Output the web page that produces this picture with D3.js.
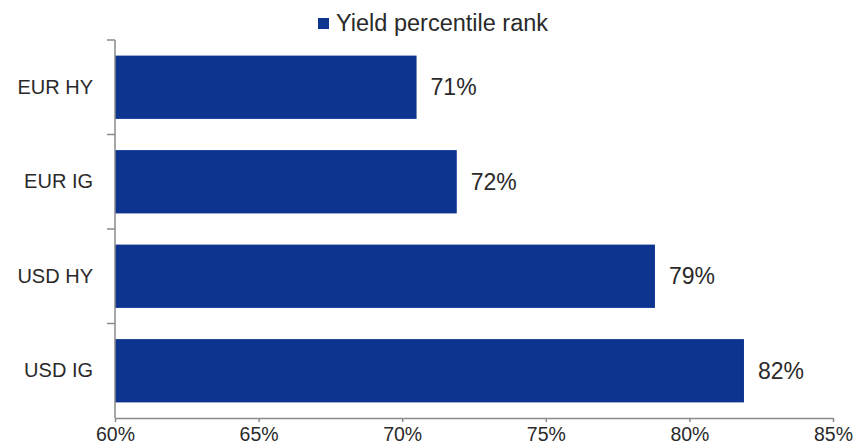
<!DOCTYPE html>
<html>
<head>
<meta charset="utf-8">
<script src="https://cdn.jsdelivr.net/npm/d3@7"></script>
<style>
  html, body { margin: 0; padding: 0; background: #fff; }
  svg { display: block; }
  text { font-family: "Liberation Sans", Arial, sans-serif; fill: #2a2a2a; }
</style>
</head>
<body>
<div id="chart"></div>
<script>
// Yield percentile rank by credit segment
const categories = ["EUR HY", "EUR IG", "USD HY", "USD IG"];
const values = [70.5, 71.9, 78.8, 81.9];
const xTicks = [60, 65, 70, 75, 80, 85];
const seriesName = "Yield percentile rank";

const width = 857, height = 446;
const barColor = "#0d3590";
const axisColor = "#8a8a8a";

const svg = d3.select("#chart").append("svg")
  .attr("width", width).attr("height", height);

const x = d3.scaleLinear().domain([60, 85]).range([115, 833]);
const y = d3.scaleBand().domain(categories).range([40, 418])
  .paddingInner(0.33).paddingOuter(0.165);

// Bars
svg.append("g").selectAll("rect")
  .data(categories)
  .join("rect")
  .attr("x", x(60))
  .attr("y", d => y(d))
  .attr("width", (d, i) => x(values[i]) - x(60))
  .attr("height", y.bandwidth())
  .attr("fill", barColor);

// Value labels
const fmt = v => Math.round(v) + "%";
svg.append("g").selectAll("text")
  .data(categories)
  .join("text")
  .attr("x", (d, i) => x(values[i]) + 14)
  .attr("y", d => y(d) + y.bandwidth() / 2 + 2)
  .attr("dominant-baseline", "middle")
  .style("font-size", "23px")
  .text((d, i) => fmt(values[i]));

// X axis
const xAxis = svg.append("g")
  .attr("transform", "translate(0,418)")
  .call(d3.axisBottom(x).tickValues(xTicks).tickFormat(d => d + "%")
    .tickSize(4).tickSizeOuter(0).tickPadding(10));
xAxis.select(".domain").attr("stroke", axisColor).attr("stroke-width", 1.5);
xAxis.selectAll(".tick line").attr("stroke", axisColor).attr("stroke-width", 1.5);
xAxis.selectAll(".tick text")
  .attr("fill", "#2a2a2a")
  .attr("dy", null)
  .attr("y", 23)
  .style("font-size", "19.5px")
  .style("font-family", "'Liberation Sans', Arial, sans-serif");

// Y axis with ticks at band boundaries
const yAxisG = svg.append("g");
yAxisG.append("line")
  .attr("x1", x(60)).attr("x2", x(60))
  .attr("y1", y.range()[0]).attr("y2", y.range()[1])
  .attr("stroke", axisColor).attr("stroke-width", 1.5);
const boundaries = categories.map(d => y(d) - y.step() * y.paddingInner() / 2);
boundaries[0] = y.range()[0];
yAxisG.selectAll("line.tick")
  .data(boundaries)
  .join("line")
  .attr("class", "tick")
  .attr("x1", x(60) - 8).attr("x2", x(60))
  .attr("y1", d => d).attr("y2", d => d)
  .attr("stroke", axisColor).attr("stroke-width", 1.5);

// Category labels
yAxisG.selectAll("text")
  .data(categories)
  .join("text")
  .attr("x", 93)
  .attr("y", d => y(d) + y.bandwidth() / 2 + 1)
  .attr("text-anchor", "end")
  .attr("dominant-baseline", "middle")
  .style("font-size", "20px")
  .text(d => d);

// Legend
const legend = svg.append("g");
legend.append("rect")
  .attr("x", 318).attr("y", 18).attr("width", 11).attr("height", 11)
  .attr("fill", barColor);
legend.append("text")
  .attr("x", 336).attr("y", 31)
  .style("font-size", "23.5px")
  .text(seriesName);
</script>
</body>
</html>
